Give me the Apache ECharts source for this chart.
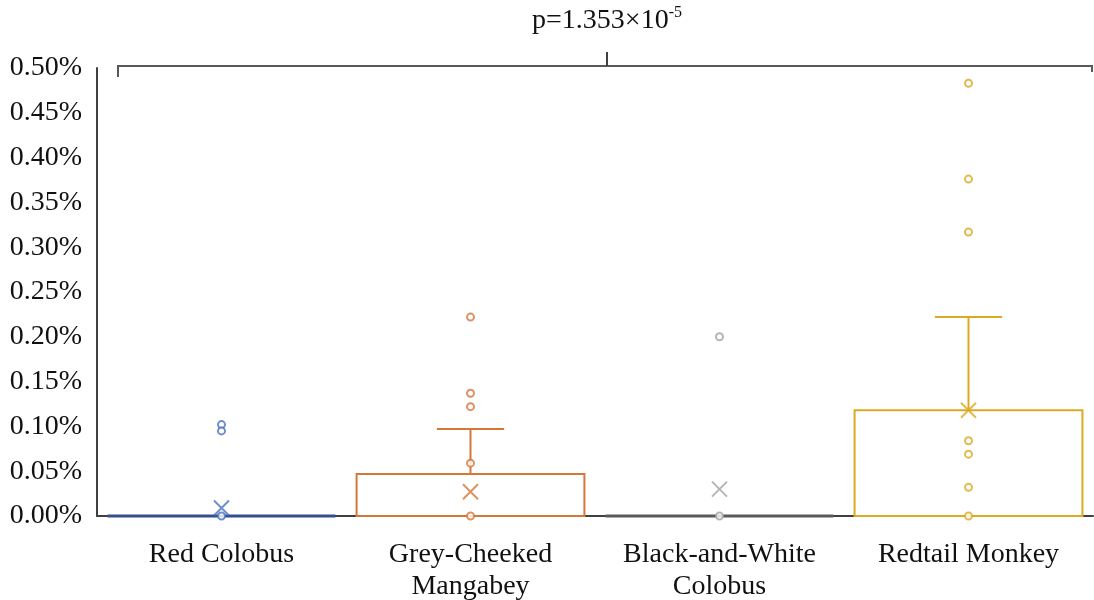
<!DOCTYPE html>
<html>
<head>
<meta charset="utf-8">
<script src="https://cdn.jsdelivr.net/npm/echarts@6/dist/echarts.min.js"></script>
<style>
  html, body { margin: 0; padding: 0; background: #fff; }
  #main { width: 1094px; height: 600px; }
</style>
</head>
<body>
<div id="main"></div>
<script>
// values in percent
var categories = ['Red Colobus', 'Grey-Cheeked\nMangabey', 'Black-and-White\nColobus', 'Redtail Monkey'];
var colors = ['#4A72C0', '#D6773A', '#A3A3A3', '#DBAA22'];
var flatColors = ['#34508A', '#B8652F', '#5A5A5A', '#C49A20'];
var q1 = [0, 0, 0, 0];
var median = [0, 0, 0, 0];
var q3 = [0, 0.047, 0, 0.118];
var whiskerHigh = [0, 0.097, 0, 0.222];
var means = [0.009, 0.027, 0.030, 0.118];
var points = [
    [0.102, 0.095, 0],
    [0.222, 0.137, 0.122, 0.059, 0],
    [0.200, 0],
    [0.483, 0.376, 0.317, 0.084, 0.069, 0.032, 0]
];
var yTicks = [0, 0.05, 0.10, 0.15, 0.20, 0.25, 0.30, 0.35, 0.40, 0.45, 0.50];

var chartDom = document.getElementById('main');
var myChart = echarts.init(chartDom);
var font = '"Liberation Serif", "Times New Roman", serif';

var boxData = categories.map(function (c, i) {
    return [i, q1[i], median[i], q3[i], whiskerHigh[i]];
});

var meanData = means.map(function (v, i) {
    return { value: [i, v], itemStyle: { color: 'none', borderColor: colors[i], borderWidth: 2 } };
});

var pointData = [];
points.forEach(function (arr, i) {
    arr.forEach(function (v) {
        pointData.push({ value: [i, v], itemStyle: { color: '#fff', borderColor: colors[i], borderWidth: 2 } });
    });
});

function renderBox(params, api) {
    var idx = api.value(0);
    var band = api.size([1, 0])[0];
    var boxW = band * 0.915;
    var capW = band * 0.27;
    var pLow = api.coord([idx, api.value(1)]);
    var pMed = api.coord([idx, api.value(2)]);
    var pHigh = api.coord([idx, api.value(3)]);
    var pWh = api.coord([idx, api.value(4)]);
    var c = colors[idx];
    var st = { stroke: c, lineWidth: 2, fill: 'none' };
    var children = [];
    if (pWh[1] < pHigh[1] - 0.5) {
        children.push({ type: 'line', shape: { x1: pHigh[0], y1: pHigh[1], x2: pWh[0], y2: pWh[1] }, style: st });
        children.push({ type: 'line', shape: { x1: pWh[0] - capW / 2, y1: pWh[1], x2: pWh[0] + capW / 2, y2: pWh[1] }, style: st });
    }
    // a box with no height sits on the axis and looks darker there
    var flat = pLow[1] - pHigh[1] < 0.5;
    var boxStroke = flat ? flatColors[idx] : c;
    children.push({
        type: 'rect',
        shape: { x: pLow[0] - boxW / 2, y: pHigh[1], width: boxW, height: pLow[1] - pHigh[1] },
        style: { stroke: boxStroke, lineWidth: flat ? 3 : 2, fill: 'none' }
    });
    children.push({ type: 'line', shape: { x1: pMed[0] - boxW / 2, y1: pMed[1], x2: pMed[0] + boxW / 2, y2: pMed[1] }, style: { stroke: boxStroke, lineWidth: 2 } });
    return { type: 'group', children: children };
}

var option = {
    animation: false,
    backgroundColor: '#fff',
    grid: { left: 97, right: 1, top: 68, bottom: 84, outerBoundsMode: 'none' },
    xAxis: {
        type: 'category',
        data: categories,
        axisLine: { show: true, lineStyle: { color: '#404040', width: 2 } },
        axisTick: { show: false },
        axisLabel: { interval: 0, fontFamily: font, fontSize: 28, color: '#111', lineHeight: 32, margin: 23 }
    },
    yAxis: {
        type: 'value',
        min: 0,
        max: 0.5,
        interval: 0.05,
        axisLine: { show: true, lineStyle: { color: '#404040', width: 2 } },
        axisTick: { show: false },
        splitLine: { show: false },
        axisLabel: {
            fontFamily: font, fontSize: 28, color: '#111', margin: 15,
            formatter: function (v) { return v.toFixed(2) + '%'; }
        }
    },
    series: [
        {
            type: 'custom',
            renderItem: renderBox,
            data: boxData,
            encode: { x: 0, y: [1, 2, 3, 4] },
            z: 3
        },
        {
            type: 'scatter',
            symbol: 'path://M0,0L10,10M10,0L0,10',
            symbolSize: 15,
            data: meanData,
            z: 6
        },
        {
            type: 'scatter',
            symbol: 'circle',
            symbolSize: 7,
            data: pointData,
            z: 7
        }
    ],
    graphic: []
};

option && myChart.setOption(option);

// significance bracket above the plot
var yTop = myChart.convertToPixel({ yAxisIndex: 0 }, 0.5) - 2;
var xMid = 607;
myChart.setOption({
    graphic: [
        {
            type: 'polyline',
            shape: { points: [[118, yTop + 11], [118, yTop], [1092, yTop], [1092, yTop + 6]] },
            style: { stroke: '#595959', lineWidth: 2, fill: 'none' }
        },
        {
            type: 'line',
            shape: { x1: xMid, y1: yTop, x2: xMid, y2: yTop - 14 },
            style: { stroke: '#404040', lineWidth: 2 }
        },
        {
            type: 'text',
            x: xMid,
            y: 21,
            style: {
                text: '{a|p=1.353×10}{s|-5}',
                align: 'center',
                verticalAlign: 'middle',
                rich: {
                    a: { fontFamily: font, fontSize: 28, fill: '#111', lineHeight: 32 },
                    s: { fontFamily: font, fontSize: 16, fill: '#111', verticalAlign: 'top', lineHeight: 32, padding: [0, 0, 14, 0] }
                }
            }
        }
    ]
});
</script>
</body>
</html>
